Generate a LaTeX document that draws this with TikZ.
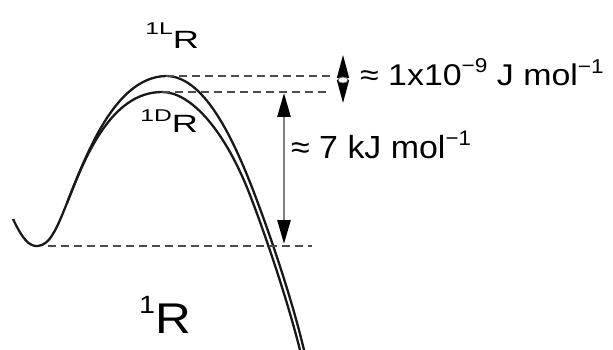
\documentclass[tikz,border=0pt]{standalone}
\usepackage{fontspec}
\setmainfont{Liberation Sans}
\usetikzlibrary{arrows.meta}
\begin{document}
\begin{tikzpicture}[x=1pt,y=-1pt,
  curve/.style={line width=2.3pt, draw=black!90},
  level/.style={line width=2.3pt, draw=black!70, dash pattern=on 8pt off 5pt},
  gaparrow/.style={line width=2.6pt, draw=black!50,
    arrows={Triangle[length=24pt,width=13pt,color=black]-Triangle[length=24pt,width=13pt,color=black]}},
  tinyarrow/.style={line width=1.5pt, draw=black,
    arrows={Triangle[length=23pt,width=12pt]-Triangle[length=23pt,width=12pt]}},
  lbl/.style={inner sep=0pt, anchor=base west}]
\useasboundingbox (0,0) rectangle (613,350);

% named points
\coordinate (Lpk) at (166,76);
\coordinate (Dpk) at (162,92);
\coordinate (Lend) at (330,76);
\coordinate (Dend) at (328,92);
\coordinate (Mstart) at (48,246);
\coordinate (Mend) at (312,246);
\coordinate (gtop) at (284,93);
\coordinate (gbot) at (284,244);
\coordinate (ttop) at (343,55);
\coordinate (tbot) at (343,103);
\coordinate (tmid) at (343,80);

% potential curves
\draw[curve] (13,219) .. controls (22,238) and (29,247) .. (38,246)
  .. controls (50,245) and (57,228) .. (67,203)
  .. controls (85,158) and (114,77) .. (Lpk)
  .. controls (200,76) and (228,125) .. (253,190)
  .. controls (263,216) and (289,287) .. (304,350);
\draw[curve] (67,203) .. controls (84,160) and (110,92) .. (Dpk)
  .. controls (190,92) and (223,128) .. (248,190)
  .. controls (258,215) and (284,287) .. (300,350);

% levels
\draw[level] (Lpk) -- (Lend);
\draw[level] (Dpk) -- (Dend);
\draw[level] (Mstart) -- (Mend);

% arrows
\draw[gaparrow] (gtop) -- (gbot);
\draw[tinyarrow] (ttop) -- (tbot);
\draw[fill=white, draw=black!60, line width=0.8pt] (tmid) ellipse [x radius=5pt, y radius=3pt];

% labels
\node[lbl] (LR) at (145.2,49) {\scalebox{1.45}[1]{\raisebox{14pt}{\fontsize{17}{17}\selectfont 1L}\fontsize{25}{25}\selectfont R}};
\node[lbl] (DR) at (140.2,133) {\scalebox{1.45}[1]{\raisebox{11pt}{\fontsize{17}{17}\selectfont 1D}\fontsize{25}{25}\selectfont R}};
\node[lbl] (R) at (138.9,333) {\scalebox{1.15}[1]{\raisebox{20pt}{\fontsize{25}{25}\selectfont 1}\fontsize{43}{43}\selectfont R}};
\node[lbl] (E1) at (360,86) {\scalebox{1.13}[1]{\fontsize{30}{30}\selectfont ≈ 1x10\raisebox{13pt}{\fontsize{20}{20}\selectfont −9} J mol\raisebox{12pt}{\fontsize{20}{20}\selectfont −1}}};
\node[lbl] (E2) at (291,158) {\scalebox{1.06}[1]{\fontsize{32}{32}\selectfont ≈ 7 kJ mol\raisebox{13pt}{\fontsize{21}{21}\selectfont −1}}};
\end{tikzpicture}
\end{document}
